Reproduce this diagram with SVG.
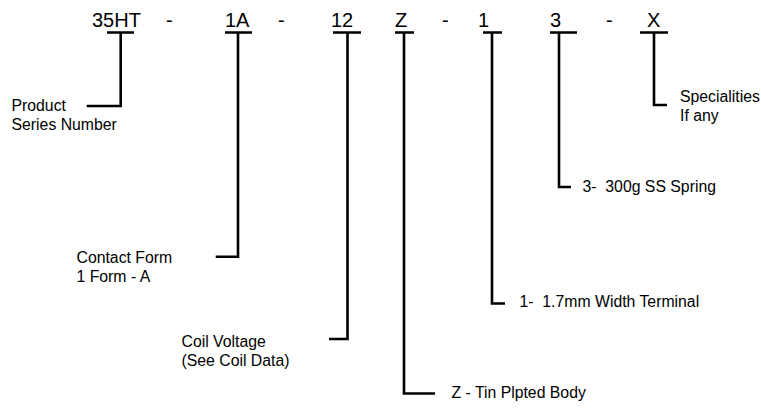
<svg xmlns="http://www.w3.org/2000/svg" width="761" height="408" viewBox="0 0 761 408">
<style>
text{font-family:"Liberation Sans",Arial,Helvetica,sans-serif;fill:#000;white-space:pre}
.code{font-size:20px}
.lbl{font-size:15.8px}
.ln{fill:none;stroke:#000;stroke-width:2.6;stroke-linejoin:miter}
</style>
<rect width="761" height="408" fill="#fff"/>
<g id="code">
<text class="code" x="92" y="27">35HT</text>
<text class="code" x="166" y="27">-</text>
<text class="code" x="225" y="27">1A</text>
<text class="code" x="278" y="27">-</text>
<text class="code" x="331" y="27">12</text>
<text class="code" x="395" y="27">Z</text>
<text class="code" x="442" y="27">-</text>
<text class="code" x="478" y="27">1</text>
<text class="code" x="550" y="27">3</text>
<text class="code" x="606" y="27">-</text>
<text class="code" x="647" y="27">X</text>
</g>
<g id="connectors">
<path class="ln" d="M107 32.5H134M120.7 32.5V106H86.7"/>
<path class="ln" d="M225 32.5H252M238 32.5V256.7H215.7"/>
<path class="ln" d="M333 32.5H361M347.5 32.5V339H329"/>
<path class="ln" d="M395 32.5H414M404 32.5V393.5H435"/>
<path class="ln" d="M483 32.5H502M492 32.5V303.5H505"/>
<path class="ln" d="M550 32.5H577M559 32.5V187H571"/>
<path class="ln" d="M640 32.5H668M654 32.5V105H667"/>
</g>
<g id="product-series">
<text class="lbl" x="11.5" y="111">Product</text>
<text class="lbl" x="11.5" y="129.5">Series Number</text>
</g>
<g id="contact-form">
<text class="lbl" x="76.5" y="262.5">Contact Form</text>
<text class="lbl" x="76.5" y="282">1 Form - A</text>
</g>
<g id="coil-voltage">
<text class="lbl" x="181.5" y="346.7">Coil Voltage</text>
<text class="lbl" x="181.5" y="365.5">(See Coil Data)</text>
</g>
<g id="body">
<text class="lbl" x="451.5" y="397.5">Z - Tin Plpted Body</text>
</g>
<g id="terminal">
<text class="lbl" x="519.5" y="306.8">1-  1.7mm Width Terminal</text>
</g>
<g id="spring">
<text class="lbl" x="582.5" y="192">3-  300g SS Spring</text>
</g>
<g id="specialities">
<text class="lbl" x="680" y="102">Specialities</text>
<text class="lbl" x="680" y="120.5">If any</text>
</g>
</svg>
